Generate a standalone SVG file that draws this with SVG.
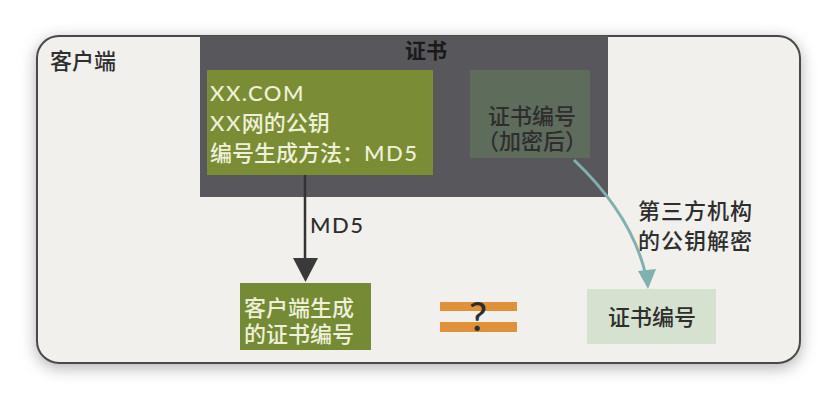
<svg xmlns="http://www.w3.org/2000/svg" width="838" height="402" viewBox="0 0 838 402">
<style>
text{font-family:"Lato","Noto Sans CJK SC",sans-serif;}
.lt{fill:#eef0d8;font-size:22px;font-weight:500;}
.dk{fill:#2e2e2e;font-size:22px;font-weight:500;}
.la{letter-spacing:1.5px;}
</style>
<defs>
<filter id="sh" x="-10%" y="-20%" width="120%" height="140%">
<feDropShadow dx="0" dy="4" stdDeviation="8" flood-color="#000" flood-opacity="0.3"/>
</filter>
<clipPath id="cc"><rect x="37" y="36" width="763" height="327" rx="22"/></clipPath>
</defs>
<rect width="838" height="402" fill="#ffffff"/>
<g id="card">
<rect x="37" y="36" width="763" height="327" rx="22" fill="#f1f0ec" stroke="#4a4a48" stroke-width="2" filter="url(#sh)"/>
<text x="50" y="69" class="dk">客户端</text>
</g>
<g id="cert" clip-path="url(#cc)">
<rect x="200" y="36" width="408" height="161" fill="#58575b"/>
<text x="426" y="58" text-anchor="middle" font-weight="bold" font-size="21" fill="#1a1a1a">证书</text>
</g>
<g id="info">
<rect x="207" y="70" width="226" height="105" fill="#7a8c34"/>
<text x="210" y="101" class="lt la">XX.COM</text>
<text x="210" y="131" class="lt"><tspan class="la">XX</tspan>网的公钥</text>
<text x="210" y="161" class="lt">编号生成方法：<tspan class="la">MD5</tspan></text>
</g>
<g id="encnum">
<rect x="470" y="70" width="120" height="88" fill="#5e6c5c"/>
<text x="532" y="124" text-anchor="middle" class="dk" fill="#1e1e1e">证书编号</text>
<text x="532" y="149" text-anchor="middle" class="dk" fill="#1e1e1e">（加密后）</text>
</g>
<g id="connectors">
<line x1="305" y1="175" x2="305" y2="260" stroke="#333" stroke-width="2.5"/>
<polygon points="293,258 318,258 305.5,282" fill="#3a3a3a"/>
<text x="310" y="233" class="dk la">MD5</text>
<path d="M574,160 Q632,215 646,276" fill="none" stroke="#7fb1b1" stroke-width="3"/>
<polygon points="638,271 656,269 648,289" fill="#7fb1b1"/>
<text x="638" y="219" class="dk" letter-spacing="1">第三方机构</text>
<text x="638" y="249" class="dk" letter-spacing="1">的公钥解密</text>
</g>
<g id="clientnum">
<rect x="240" y="283" width="131" height="67" fill="#748a35"/>
<text x="244" y="316" class="lt">客户端生成</text>
<text x="244" y="342" class="lt">的证书编号</text>
</g>
<g id="equal">
<rect x="440" y="302" width="77" height="9" fill="#e0923a"/>
<rect x="440" y="322" width="77" height="10" fill="#e0923a"/>
<text x="478" y="331" text-anchor="middle" font-size="40" font-weight="500" fill="#2e2e2e">?</text>
</g>
<g id="certnum">
<rect x="587" y="289" width="129" height="55" fill="#d4e2cf"/>
<text x="652" y="325" text-anchor="middle" class="dk" fill="#242424">证书编号</text>
</g>
</svg>
